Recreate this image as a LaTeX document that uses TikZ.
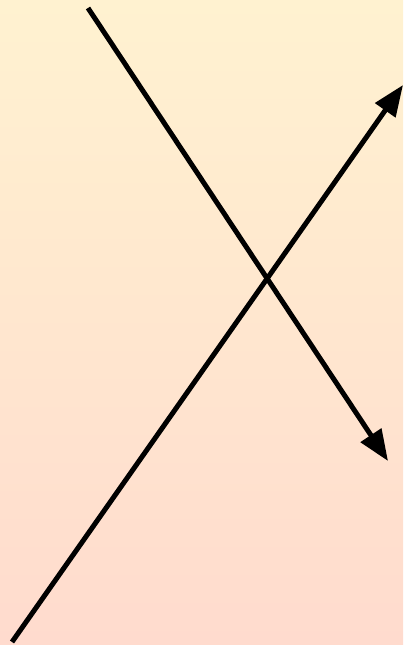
\documentclass[tikz,border=0pt]{standalone}
\usetikzlibrary{arrows.meta}
\definecolor{bgtop}{RGB}{255,242,208}
\definecolor{bgbot}{RGB}{255,219,206}
\begin{document}
\begin{tikzpicture}[x=0.02cm,y=-0.02cm,
    crossarrow/.style={line width=0.1cm, -{Triangle[length=0.62cm,width=0.48cm]}}]
    \shade[top color=bgtop, bottom color=bgbot] (0,0) rectangle (403,645);
    \useasboundingbox (0,0) rectangle (403,645);
    \coordinate (down start) at (88,8);
    \coordinate (down end) at (388,461);
    \coordinate (up start) at (12,642);
    \coordinate (up end) at (403,85);
    \draw[crossarrow] (down start) -- (down end);
    \draw[crossarrow] (up start) -- (up end);
\end{tikzpicture}
\end{document}
